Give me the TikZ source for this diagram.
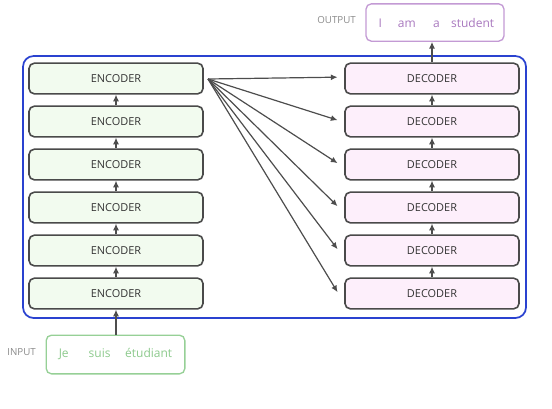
\documentclass[tikz,border=0pt]{standalone}
\usepackage{fontspec}
\setmainfont{Open Sans}
\usetikzlibrary{arrows.meta}
\definecolor{boxline}{HTML}{4A4A4A}
\definecolor{arrcol}{HTML}{4D4D4D}
\definecolor{encfill}{HTML}{F2FBEF}
\definecolor{decfill}{HTML}{FDEFFB}
\definecolor{outerblue}{HTML}{2A42D0}
\definecolor{outcol}{HTML}{C39AD4}
\definecolor{outtext}{HTML}{A878BE}
\definecolor{incol}{HTML}{96D096}
\definecolor{intext}{HTML}{8CC98C}
\definecolor{lbl}{HTML}{8A8A8A}
\tikzset{
  stackbox/.style={draw=boxline, line width=1.2pt, rounded corners=4pt,
    minimum width=130.5pt, minimum height=23pt, inner sep=0pt,
    font=\fontsize{8.2}{10}\selectfont, text=black!80},
  encbox/.style={stackbox, fill=encfill},
  decbox/.style={stackbox, fill=decfill},
  arr/.style={draw=arrcol, line width=0.9pt, -{Latex[length=5pt,width=4.5pt]}},
  wordbox/.style={rounded corners=4pt, line width=1pt, inner sep=0pt,
    font=\fontsize{9}{11}\selectfont},
  sidelabel/.style={font=\fontsize{7.3}{8}\selectfont, text=lbl, inner sep=0pt}
}
\begin{document}
\begin{tikzpicture}[x=0.75pt,y=-0.75pt]
\useasboundingbox (0,0) rectangle (552,408);
\draw[outerblue, line width=1.3pt, rounded corners=8pt] (23,56) rectangle (526,318);
% encoders
\node[encbox] (e1) at (116,78.5) {ENCODER};
\node[encbox] (e2) at (116,121.5) {ENCODER};
\node[encbox] (e3) at (116,164.5) {ENCODER};
\node[encbox] (e4) at (116,207.5) {ENCODER};
\node[encbox] (e5) at (116,250.5) {ENCODER};
\node[encbox] (e6) at (116,293.5) {ENCODER};
% decoders
\node[decbox] (d1) at (432,78.5) {DECODER};
\node[decbox] (d2) at (432,121.5) {DECODER};
\node[decbox] (d3) at (432,164.5) {DECODER};
\node[decbox] (d4) at (432,207.5) {DECODER};
\node[decbox] (d5) at (432,250.5) {DECODER};
\node[decbox] (d6) at (432,293.5) {DECODER};
% stack arrows
\foreach \a/\b in {e6/e5,e5/e4,e4/e3,e3/e2,e2/e1,d6/d5,d5/d4,d4/d3,d3/d2,d2/d1}
  \draw[arr] (\a.north) -- (\b.south);
% input / output
\node[wordbox, draw=incol, text=intext, minimum width=104pt, minimum height=29pt] (inp) at (115.5,354.5)
  {Je\hspace{15pt}suis\hspace{11pt}étudiant};
\node[sidelabel, anchor=east] (inlbl) at (36,352) {INPUT};
\node[wordbox, draw=outcol, text=outtext, minimum width=103.5pt, minimum height=28pt] (outp) at (435,22.5)
  {\hspace{2pt}I\hspace{12pt}am\hspace{13pt}a\hspace{8.5pt}student};
\node[sidelabel, anchor=east] (outlbl) at (356,20) {OUTPUT};
\draw[arr] (inp.north -| e6.south) -- (e6.south);
\draw[arr] (d1.north) -- (d1.north |- outp.south);
% fan
\coordinate (fan) at (208,79);
\foreach \d in {d1,d2,d3,d4,d5,d6}
  \draw[arr] (fan) -- ([xshift=-5pt,yshift=1pt]\d.west);
\end{tikzpicture}
\end{document}
